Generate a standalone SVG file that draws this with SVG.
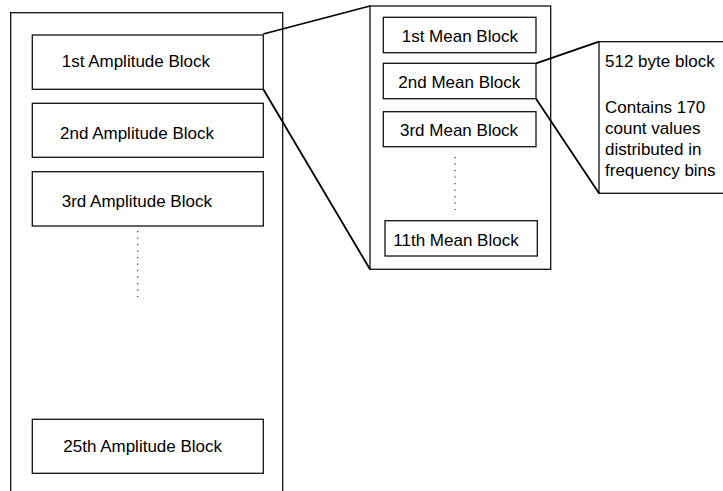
<svg xmlns="http://www.w3.org/2000/svg" width="723" height="491" viewBox="0 0 723 491">
<style>
.box{fill:#fff;stroke:#111;stroke-width:1.3}
.t{font-family:"Liberation Sans",Arial,sans-serif;font-size:17px;fill:#000}
.dot{stroke:#333;stroke-width:1.2;stroke-dasharray:1.3 5.2;fill:none}
.con{stroke:#000;stroke-width:1.8;fill:none}
</style>
<rect width="723" height="491" fill="#fff"/>
<g id="amplitude-container">
<rect class="box" x="10.7" y="12.7" width="272" height="490"/>
<path class="dot" d="M137.7 231 V297"/>
</g>
<g id="amp1"><rect class="box" x="32.3" y="35" width="231" height="54.3"/><text class="t" x="61.7" y="66.7">1st Amplitude Block</text></g>
<g id="amp2"><rect class="box" x="32.3" y="103.3" width="231" height="54"/><text class="t" x="60" y="139.3">2nd Amplitude Block</text></g>
<g id="amp3"><rect class="box" x="32.3" y="171.7" width="231" height="54.3"/><text class="t" x="61.7" y="207.3">3rd Amplitude Block</text></g>
<g id="amp25"><rect class="box" x="32.3" y="419.3" width="231" height="54"/><text class="t" x="63.3" y="452.3">25th Amplitude Block</text></g>
<g id="mean-container">
<rect class="box" x="370" y="6" width="180.7" height="263.3"/>
<path class="dot" d="M455 157 V210"/>
</g>
<g id="mean1"><rect class="box" x="383.3" y="17.3" width="152.7" height="35.4"/><text class="t" x="401.7" y="42.3">1st Mean Block</text></g>
<g id="mean2"><rect class="box" x="383.3" y="63.3" width="152.7" height="35.4"/><text class="t" x="398.3" y="88.3">2nd Mean Block</text></g>
<g id="mean3"><rect class="box" x="383.3" y="111.7" width="152.7" height="35"/><text class="t" x="400" y="136">3rd Mean Block</text></g>
<g id="mean11"><rect class="box" x="385" y="220.7" width="152.3" height="35.3"/><text class="t" x="393.3" y="246">11th Mean Block</text></g>
<g id="detail">
<rect class="box" x="599" y="41.7" width="140" height="151.6"/>
<text class="t" x="605" y="66.7">512 byte block</text>
<text class="t" x="605" y="113.3">Contains 170</text>
<text class="t" x="605" y="134">count values</text>
<text class="t" x="605" y="155">distributed in</text>
<text class="t" x="605" y="175.7">frequency bins</text>
</g>
<g id="connectors">
<path class="con" d="M263.3 34 L370 6"/>
<path class="con" d="M263.3 89.3 L370 269.3"/>
<path class="con" d="M536 63.3 L599 41.7"/>
<path class="con" d="M536 98.7 L599 193.3"/>
</g>
</svg>
